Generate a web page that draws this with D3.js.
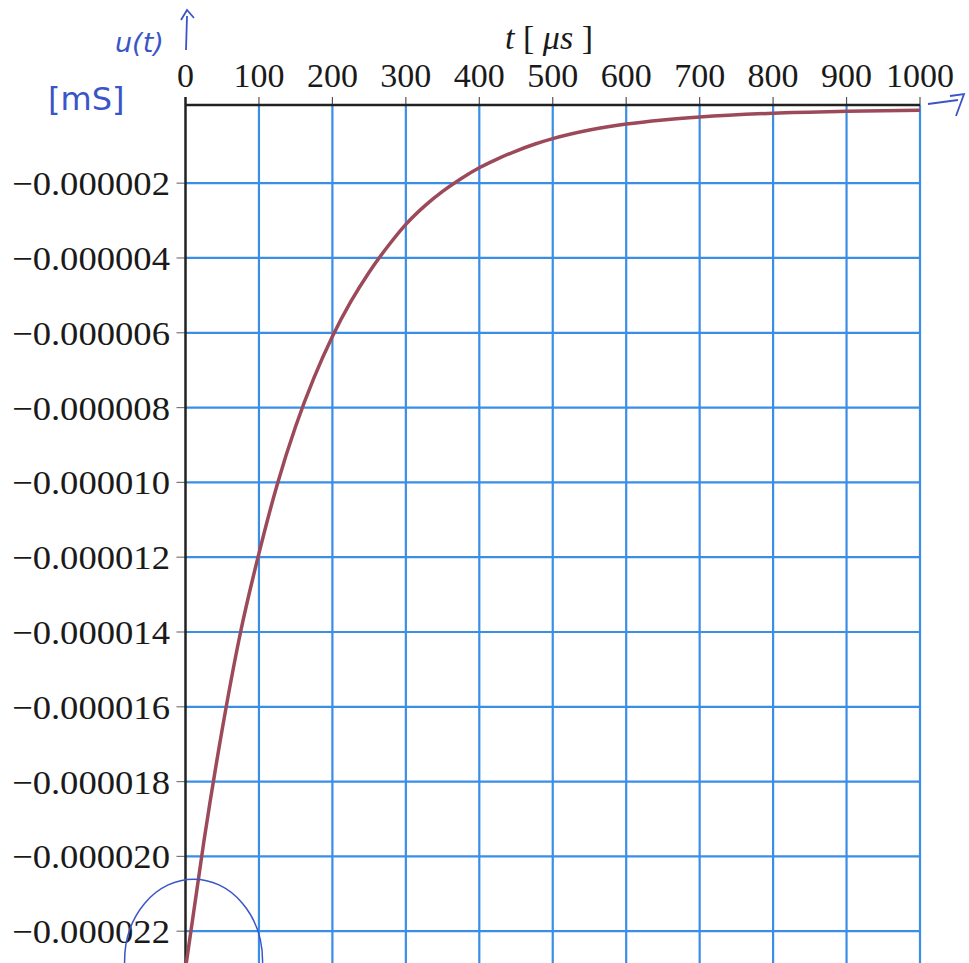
<!DOCTYPE html>
<html>
<head>
<meta charset="utf-8">
<script src="https://cdn.jsdelivr.net/npm/d3@7/dist/d3.min.js"></script>
<style>
  html, body { margin: 0; padding: 0; background: #fff; }
  .tick-label { font-family: 'Liberation Serif', 'DejaVu Serif', serif; font-size: 34px; fill: #1a1a1a; }
  .hand { font-family: 'DejaVu Sans', sans-serif; fill: #3a55c8; }
</style>
</head>
<body>
<div id="chart"></div>
<script>
// time in microseconds
const times = [0, 25, 50, 75, 100, 125, 150, 175, 200, 225, 250, 275, 300, 325, 350, 375, 400, 425, 450, 475, 500, 550, 600, 650, 700, 800, 900, 1000];
// u(t) values (x 1e-6)
const values = [-23.0, -19.6, -16.6, -14.0, -11.9, -10.05, -8.5, -7.2, -6.1, -5.17, -4.38, -3.7, -3.1, -2.62, -2.22, -1.88, -1.59, -1.35, -1.14, -0.96, -0.81, -0.58, -0.42, -0.31, -0.23, -0.13, -0.08, -0.05];

const xTicks = [0, 100, 200, 300, 400, 500, 600, 700, 800, 900, 1000];
const yTicks = [-2, -4, -6, -8, -10, -12, -14, -16, -18, -20, -22];

const width = 969;
const height = 963;

const points = times.map((t, i) => ({ t: t, v: values[i] * 1e-6 }));

const xScale = d3.scaleLinear()
  .domain([0, 1000])
  .range([185.5, 920]);

const yScale = d3.scaleLinear()
  .domain([-22.85e-6, 0.09e-6])
  .range([963, 105]);

const svg = d3.select('#chart').append('svg')
  .attr('width', width)
  .attr('height', height);

const gridColor = '#3a8ee6';

// vertical grid lines
svg.selectAll('.vgrid')
  .data(xTicks.slice(1))
  .enter()
  .append('line')
  .attr('x1', d => xScale(d))
  .attr('x2', d => xScale(d))
  .attr('y1', yScale.range()[1])
  .attr('y2', height)
  .attr('stroke', gridColor)
  .attr('stroke-width', 2.2);

// horizontal grid lines
svg.selectAll('.hgrid')
  .data(yTicks)
  .enter()
  .append('line')
  .attr('x1', xScale(0))
  .attr('x2', xScale(1000))
  .attr('y1', d => yScale(d * 1e-6))
  .attr('y2', d => yScale(d * 1e-6))
  .attr('stroke', gridColor)
  .attr('stroke-width', 2.2);

// tick marks
svg.selectAll('.xtick')
  .data(xTicks)
  .enter()
  .append('line')
  .attr('x1', d => xScale(d))
  .attr('x2', d => xScale(d))
  .attr('y1', yScale.range()[1] - 8)
  .attr('y2', yScale.range()[1])
  .attr('stroke', '#555')
  .attr('stroke-width', 1.2);

svg.selectAll('.ytick')
  .data(yTicks)
  .enter()
  .append('line')
  .attr('x1', xScale(0) - 9)
  .attr('x2', xScale(0))
  .attr('y1', d => yScale(d * 1e-6))
  .attr('y2', d => yScale(d * 1e-6))
  .attr('stroke', '#777')
  .attr('stroke-width', 1.2);

// axes lines
svg.append('line')
  .attr('x1', xScale(0))
  .attr('x2', xScale(1000))
  .attr('y1', yScale.range()[1])
  .attr('y2', yScale.range()[1])
  .attr('stroke', '#222')
  .attr('stroke-width', 2.5);

svg.append('line')
  .attr('x1', xScale(0))
  .attr('x2', xScale(0))
  .attr('y1', yScale.range()[1] - 8)
  .attr('y2', height)
  .attr('stroke', '#222')
  .attr('stroke-width', 2.5);

// tick labels
svg.selectAll('.xlabel')
  .data(xTicks)
  .enter()
  .append('text')
  .attr('class', 'tick-label')
  .attr('x', d => xScale(d))
  .attr('y', 87)
  .attr('text-anchor', 'middle')
  .text(d => d);

svg.selectAll('.ylabel')
  .data(yTicks)
  .enter()
  .append('text')
  .attr('class', 'tick-label')
  .attr('x', 170)
  .attr('y', d => yScale(d * 1e-6) + 12)
  .attr('text-anchor', 'end')
  .attr('textLength', 158)
  .attr('lengthAdjust', 'spacingAndGlyphs')
  .text(d => (d * 1e-6).toFixed(6).replace('-', '\u2212'));

// axis title
const title = svg.append('text')
  .attr('class', 'tick-label')
  .attr('x', 549)
  .attr('y', 49)
  .attr('text-anchor', 'middle');
title.append('tspan').style('font-style', 'italic').text('t');
title.append('tspan').text(' [ ');
title.append('tspan').style('font-style', 'italic').text('\u03bcs');
title.append('tspan').text(' ]');

// the curve
const line = d3.line()
  .x(d => xScale(d.t))
  .y(d => yScale(d.v))
  .curve(d3.curveMonotoneX);

svg.append('path')
  .datum(points)
  .attr('d', line)
  .attr('fill', 'none')
  .attr('stroke', '#9c4a5a')
  .attr('stroke-width', 3.5);

// handwritten notes
svg.append('text')
  .attr('class', 'hand')
  .attr('x', 115)
  .attr('y', 52)
  .style('font-size', '27px')
  .style('font-style', 'italic')
  .text('u(t)');

svg.append('path')
  .attr('d', 'M181,20 L187,10 L194,18 M187,16 L186,50')
  .attr('fill', 'none')
  .attr('stroke', '#3a55c8')
  .attr('stroke-width', 1.8);

svg.append('text')
  .attr('class', 'hand')
  .attr('x', 48)
  .attr('y', 110)
  .style('font-size', '32px')
  .text('[mS]');

svg.append('path')
  .attr('d', 'M928,104 L958,100 M950,96 L964,94 L956,116')
  .attr('fill', 'none')
  .attr('stroke', '#3a55c8')
  .attr('stroke-width', 1.8);

svg.append('ellipse')
  .attr('cx', xScale(11))
  .attr('cy', yScale(-22.8e-6))
  .attr('rx', 69)
  .attr('ry', 82)
  .attr('fill', 'none')
  .attr('stroke', '#3a55c8')
  .attr('stroke-width', 1.5);
</script>
</body>
</html>
